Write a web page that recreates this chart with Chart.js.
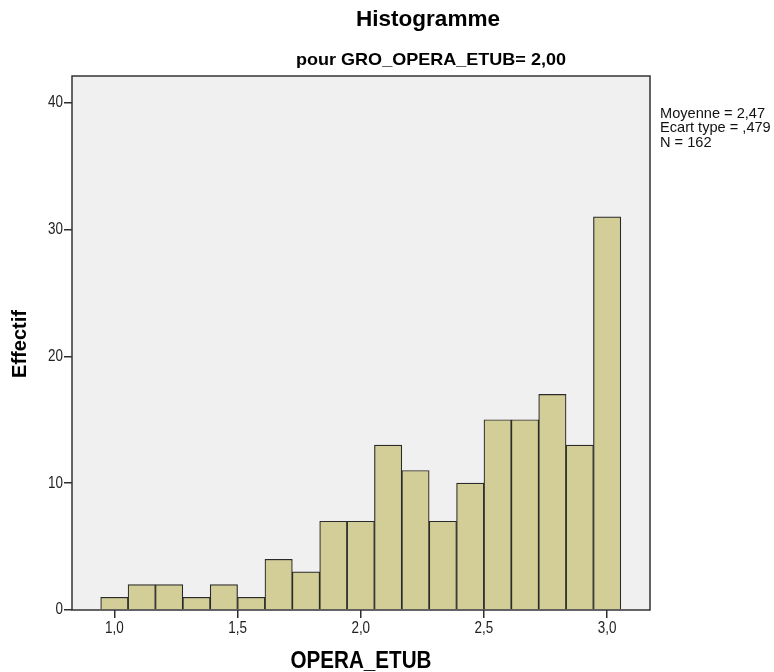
<!DOCTYPE html>
<html>
<head>
<meta charset="utf-8">
<script src="https://cdn.jsdelivr.net/npm/chart.js@4/dist/chart.umd.min.js"></script>
<style>
  html, body { margin: 0; padding: 0; background: #ffffff; }
  #wrap { width: 774px; height: 672px; position: relative; }
</style>
</head>
<body>
<div id="wrap"><canvas id="chart"></canvas></div>
<script>
// Bin centres of OPERA_ETUB (19 bins between 1,0 and 3,0)
const binCenters = [1.0000, 1.1111, 1.2222, 1.3333, 1.4444, 1.5556, 1.6667, 1.7778, 1.8889, 2.0000,
                    2.1111, 2.2222, 2.3333, 2.4444, 2.5556, 2.6667, 2.7778, 2.8889, 3.0000];
// Frequency (Effectif) of each bin
const counts = [1, 2, 2, 1, 2, 1, 4, 3, 7, 7, 13, 11, 7, 10, 15, 15, 17, 13, 31];
// Axis ticks
const xTicks = [1.0, 1.5, 2.0, 2.5, 3.0];
const yTicks = [0, 10, 20, 30, 40];
// Summary statistics text
const statsLines = ['Moyenne = 2,47', 'Ecart type = ,479', 'N = 162'];
const titleText = 'Histogramme';
const subtitleText = 'pour GRO_OPERA_ETUB= 2,00';
const xTitle = 'OPERA_ETUB';
const yTitle = 'Effectif';

const sans = '"Liberation Sans", Arial, sans-serif';
const fmtX = v => Number(v).toFixed(1).replace('.', ',');

// Draws text squeezed horizontally by `factor` for a narrow, condensed look.
// align: 'center' or 'right' (x is the centre or the right edge)
function squeezed(ctx, text, x, y, font, factor, align) {
  ctx.save();
  ctx.font = font;
  const w = ctx.measureText(text).width * factor;
  const cx = align === 'right' ? x - w / 2 : x;
  ctx.translate(cx, y);
  ctx.scale(factor, 1);
  ctx.textAlign = 'center';
  ctx.textBaseline = 'middle';
  ctx.fillText(text, 0, 0);
  ctx.restore();
}

// Same, but squeezed to an exact width
function fitted(ctx, text, cx, cy, font, width) {
  ctx.save();
  ctx.font = font;
  const factor = width / ctx.measureText(text).width;
  ctx.restore();
  squeezed(ctx, text, cx, cy, font, factor, 'center');
}

const decorations = {
  id: 'decorations',
  beforeDraw(chart) {
    const { ctx, chartArea: a } = chart;
    ctx.save();
    ctx.fillStyle = '#ffffff';
    ctx.fillRect(0, 0, chart.width, chart.height);
    ctx.fillStyle = '#f0f0f0';
    ctx.fillRect(a.left, a.top, a.right - a.left, a.bottom - a.top);
    ctx.restore();
  },
  afterDraw(chart) {
    const { ctx, chartArea: a } = chart;
    const xs = chart.scales.x, ys = chart.scales.y;
    ctx.save();
    // plot frame
    ctx.strokeStyle = '#333333';
    ctx.lineWidth = 1.5;
    ctx.strokeRect(a.left, a.top, a.right - a.left, a.bottom - a.top);

    // tick labels, placed on the scales' own tick positions
    ctx.fillStyle = '#222222';
    const tickFont = '16px ' + sans;
    xTicks.forEach(v => squeezed(ctx, fmtX(v), xs.getPixelForValue(v), 629, tickFont, 0.84, 'center'));
    yTicks.forEach(v => squeezed(ctx, String(v), 63, ys.getPixelForValue(v), tickFont, 0.84, 'right'));

    // titles
    ctx.fillStyle = '#000000';
    fitted(ctx, titleText, 428, 20, 'bold 22px ' + sans, 144);
    fitted(ctx, subtitleText, 431, 60, 'bold 17px ' + sans, 270);
    fitted(ctx, xTitle, (a.left + a.right) / 2, 662, 'bold 23px ' + sans, 141);

    ctx.save();
    ctx.translate(20, 344);
    ctx.rotate(-Math.PI / 2);
    fitted(ctx, yTitle, 0, 0, 'bold 21px ' + sans, 68);
    ctx.restore();

    // summary statistics
    ctx.textAlign = 'left';
    ctx.textBaseline = 'middle';
    ctx.font = '14.6px ' + sans;
    ctx.fillStyle = '#111111';
    statsLines.forEach((s, i) => ctx.fillText(s, a.right + 10, 114 + i * 14.4));
    ctx.restore();
  }
};

new Chart(document.getElementById('chart'), {
  type: 'bar',
  data: {
    datasets: [{
      data: binCenters.map((x, i) => ({ x: x, y: counts[i] })),
      backgroundColor: '#d3ce97',
      borderColor: '#2a2a2a',
      borderWidth: 1.2,
      barPercentage: 1,
      categoryPercentage: 1
    }]
  },
  options: {
    responsive: true,
    maintainAspectRatio: false,
    animation: false,
    devicePixelRatio: 1,
    layout: { padding: { top: 76, right: 124, left: 0, bottom: 0 } },
    plugins: { legend: { display: false }, tooltip: { enabled: false }, title: { display: false } },
    scales: {
      x: {
        type: 'linear',
        offset: false,
        min: 0.828,
        max: 3.174,
        afterBuildTicks: s => { s.ticks = xTicks.map(v => ({ value: v })); },
        afterFit: s => { s.height = 62; },
        grid: { display: true, offset: false, drawOnChartArea: false, drawTicks: true, tickLength: 8, color: '#2e2e2e', lineWidth: 1.5 },
        border: { display: false },
        ticks: { display: false, maxRotation: 0 }
      },
      y: {
        min: 0,
        max: 42.1,
        afterBuildTicks: s => { s.ticks = yTicks.map(v => ({ value: v })); },
        afterFit: s => { s.width = 72; },
        grid: { display: true, offset: false, drawOnChartArea: false, drawTicks: true, tickLength: 8, color: '#2e2e2e', lineWidth: 1.5 },
        border: { display: false },
        ticks: { display: false }
      }
    }
  },
  plugins: [decorations]
});
</script>
</body>
</html>
